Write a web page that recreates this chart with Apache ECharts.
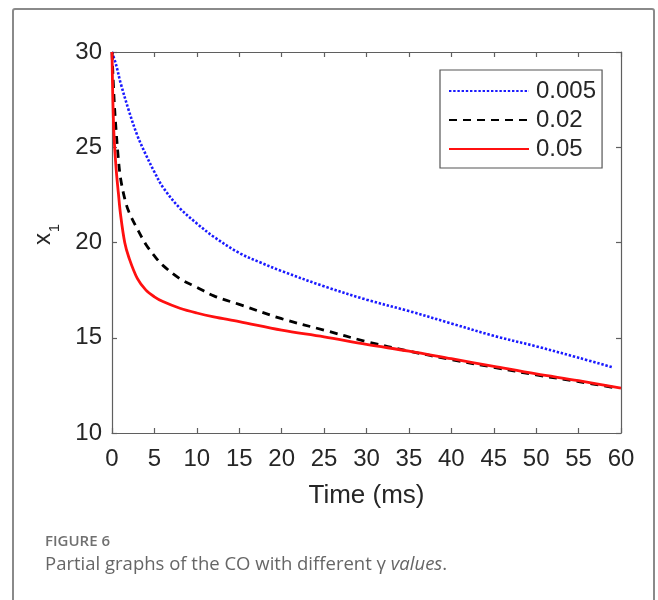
<!DOCTYPE html>
<html>
<head>
<meta charset="utf-8">
<script src="https://cdn.jsdelivr.net/npm/echarts@6/dist/echarts.min.js"></script>
<style>
  html, body { margin: 0; padding: 0; background: #fff; }
  #chart { width: 658px; height: 600px; }
</style>
</head>
<body>
<div id="chart"></div>
<script>
// Time samples (ms) and x1 trajectories for each gamma value
const gammaNames = ['0.005', '0.02', '0.05'];

const timeBlue = [0, 0.5, 1, 2, 3, 4, 5, 6, 8, 10, 12, 15, 17.5, 20, 25, 30, 35, 40, 45, 50, 55, 59];
const x1Gamma005 = [30, 29.3, 28.4, 26.9, 25.6, 24.6, 23.7, 22.9, 21.8, 21.0, 20.3, 19.45, 18.95, 18.5, 17.7, 17.0, 16.4, 15.75, 15.1, 14.55, 13.95, 13.45];

const timeBlack = [0, 0.25, 0.5, 0.75, 1, 1.5, 2, 3, 4, 5, 6, 8, 10, 12, 15, 20, 25, 30, 35, 40, 45, 50, 55, 59];
const x1Gamma02 = [30, 27.5, 25.8, 24.4, 23.4, 22.3, 21.6, 20.7, 19.9, 19.3, 18.8, 18.1, 17.65, 17.2, 16.75, 16.0, 15.4, 14.8, 14.3, 13.85, 13.45, 13.05, 12.7, 12.4];

const timeRed = [0, 0.1, 0.25, 0.5, 0.75, 1, 1.5, 2, 3, 4, 5, 6, 8, 10, 12, 15, 20, 25, 30, 35, 40, 45, 50, 55, 60];
const x1Gamma05 = [30, 27.5, 25.5, 23.8, 22.6, 21.5, 20.0, 19.2, 18.1, 17.5, 17.15, 16.9, 16.55, 16.3, 16.1, 15.85, 15.4, 15.05, 14.65, 14.3, 13.9, 13.5, 13.1, 12.75, 12.35];

const xTicks = { min: 0, max: 60, step: 5 };
const yTicks = { min: 10, max: 30, step: 5 };

function pairs(xs, ys) { return xs.map((x, i) => [x, ys[i]]); }

const axisGray = '#5f5f5f';
const labelColor = '#262626';
const tickFont = 'Liberation Sans, Arial, sans-serif';
const captionFont = '"Open Sans", Lato, sans-serif';

function boxAxis(pos, range, showLabels) {
  return {
    type: 'value',
    position: pos,
    min: range.min, max: range.max, interval: range.step,
    axisLine: { show: true, onZero: false, lineStyle: { color: axisGray, width: 1.2 } },
    axisTick: { show: true, inside: true, length: 5, lineStyle: { color: axisGray, width: 1.2 } },
    axisLabel: { show: showLabels, color: labelColor, fontFamily: tickFont, fontSize: 24, margin: 10 },
    splitLine: { show: false }
  };
}

const chart = echarts.init(document.getElementById('chart'), null, { renderer: 'canvas' });

const xBottom = Object.assign(boxAxis('bottom', xTicks, true), {
  name: 'Time (ms)', nameLocation: 'middle', nameGap: 50,
  nameTextStyle: { color: labelColor, fontFamily: tickFont, fontSize: 26 }
});
xBottom.axisLabel.margin = 14;

const lineCommon = { type: 'line', showSymbol: false, symbol: 'none', smooth: 0.35 };

chart.setOption({
  animation: false,
  backgroundColor: '#ffffff',
  grid: { left: 112, top: 52, right: 37, bottom: 167, containLabel: false },
  xAxis: [xBottom, boxAxis('top', xTicks, false)],
  yAxis: [boxAxis('left', yTicks, true), boxAxis('right', yTicks, false)],
  legend: {
    orient: 'vertical',
    left: 440, top: 70,
    padding: [9, 6, 7, 8],
    itemGap: 5,
    itemWidth: 80, itemHeight: 14,
    borderColor: '#555555', borderWidth: 1.2,
    backgroundColor: '#ffffff',
    itemStyle: { opacity: 0 },
    textStyle: { color: labelColor, fontFamily: tickFont, fontSize: 24, padding: [0, 0, 0, 2] },
    data: gammaNames
  },
  series: [
    Object.assign({}, lineCommon, {
      name: gammaNames[0], data: pairs(timeBlue, x1Gamma005),
      lineStyle: { color: '#1a1aff', width: 2.6, type: [2.4, 1.8] },
      itemStyle: { color: '#1a1aff' }
    }),
    Object.assign({}, lineCommon, {
      name: gammaNames[1], data: pairs(timeBlack, x1Gamma02),
      lineStyle: { color: '#000000', width: 2.8, type: [8, 6] },
      itemStyle: { color: '#000000' }
    }),
    Object.assign({}, lineCommon, {
      name: gammaNames[2], data: pairs(timeRed, x1Gamma05),
      lineStyle: { color: '#ff1010', width: 2.8, type: 'solid' },
      itemStyle: { color: '#ff1010' }
    })
  ],
  graphic: [
    {
      type: 'rect', z: -10, silent: true,
      shape: { x: 13, y: 9, width: 641, height: 620, r: 2 },
      style: { fill: 'none', stroke: '#8a8a8a', lineWidth: 2 }
    },
    {
      // y-axis title: x with subscript 1, rotated to read upward
      type: 'group', x: 43, y: 239, rotation: Math.PI / 2,
      children: [
        { type: 'text', x: 0, y: 0,
          style: { text: 'x', fill: labelColor, font: '24px ' + tickFont, align: 'center', verticalAlign: 'middle' } },
        { type: 'text', x: 11, y: 12,
          style: { text: '1', fill: labelColor, font: '15px ' + tickFont, align: 'center', verticalAlign: 'middle' } }
      ]
    },
    {
      type: 'text', left: 45, top: 534,
      style: { text: 'FIGURE 6', fill: '#707070', font: '600 15px ' + captionFont }
    },
    {
      type: 'text', left: 45, top: 555,
      style: {
        text: 'Partial graphs of the CO with different \u03b3 {i|values}.',
        fill: '#666666', font: '18.5px ' + captionFont,
        rich: { i: { fontStyle: 'italic', fontSize: 18.5, fontFamily: captionFont, fill: '#666666' } }
      }
    }
  ]
});
</script>
</body>
</html>
